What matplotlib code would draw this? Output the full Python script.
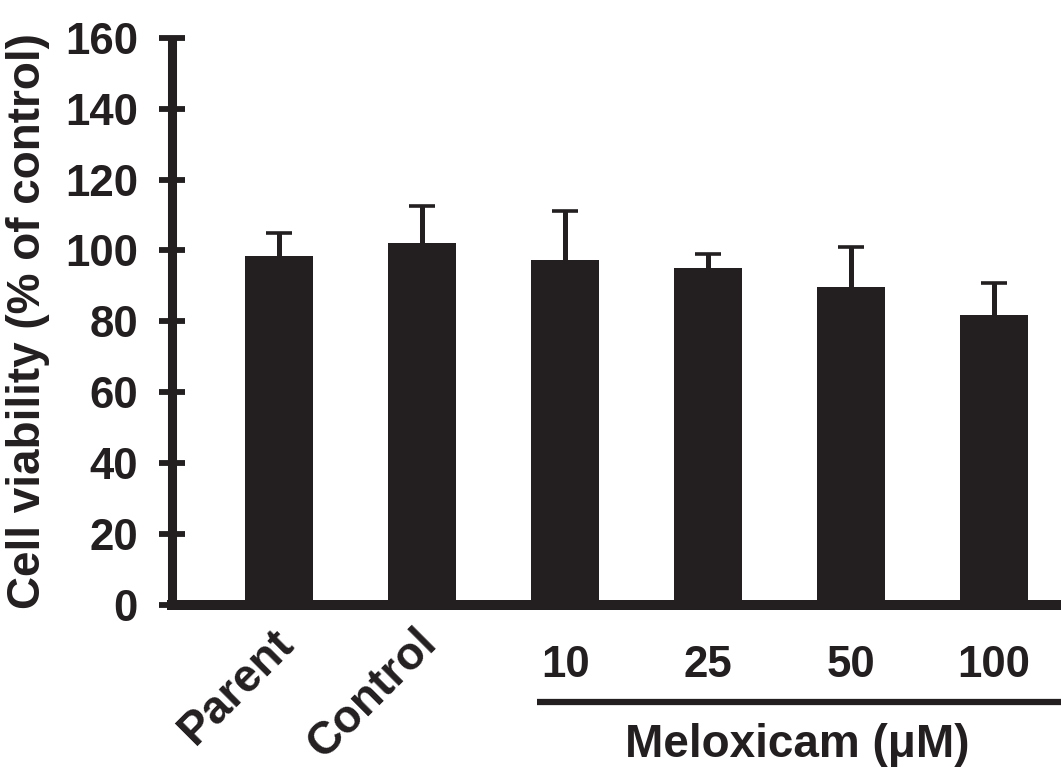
import matplotlib
matplotlib.use("Agg")
import matplotlib.pyplot as plt
from matplotlib.transforms import ScaledTranslation
import numpy as np

categories = ["Parent", "Control", "10", "25", "50", "100"]
values = [98.4, 102.0, 97.3, 95.1, 89.7, 81.8]
errors = [6.6, 10.5, 13.7, 3.9, 11.3, 9.0]
y_ticks = [0, 20, 40, 60, 80, 100, 120, 140, 160]
y_label = "Cell viability (% of control)"
group_label = "Meloxicam (\u03bcM)"

plt.rcParams['font.family'] = ['Liberation Sans', 'DejaVu Sans']
plt.rcParams['font.weight'] = 'bold'

W, H = 1061, 769
fig = plt.figure(figsize=(W / 100, H / 100), dpi=100)
ax_left = 172 / W
ax_bottom = (H - 605) / H
ax_top = (H - 37.7) / H
ax = fig.add_axes([ax_left, ax_bottom, 1.0 - ax_left, ax_top - ax_bottom])

color = "#231f20"
x = np.arange(len(categories))
ax.bar(x, values, width=0.476, color=color, zorder=2)
eb = ax.errorbar(x, values, yerr=[np.zeros(len(errors)), errors], fmt='none',
                 ecolor=color, elinewidth=3.6, capsize=9.7, capthick=2.6, zorder=1)
# hide the lower caps (zero-length lower error)
caps = eb.lines[1]
if len(caps) >= 2:
    caps[0].set_visible(False)

ax.set_xlim(-0.752, 5.469)
ax.set_ylim(0, 160)
ax.spines['top'].set_visible(False)
ax.spines['right'].set_visible(False)
ax.spines['left'].set_linewidth(6.5)
ax.spines['bottom'].set_linewidth(7.2)
ax.spines['left'].set_color(color)
ax.spines['bottom'].set_color(color)
ax.spines['left'].set_capstyle('butt')

ax.set_yticks(y_ticks)
ax.set_yticklabels([str(v) for v in y_ticks], fontsize=31.5, fontweight='bold', color=color)
ax.tick_params(axis='y', direction='inout', length=19, width=4.2, color=color, pad=15)

ax.set_xticks(x)
ax.set_xticklabels(categories, fontsize=31.5, fontweight='bold', color=color)
ax.tick_params(axis='x', length=0, pad=29)
for i, lab in enumerate(ax.get_xticklabels()):
    if i < 2:
        lab.set_rotation(45)
        lab.set_ha('right')
        lab.set_va('top')
        lab.set_rotation_mode('anchor')
        lab.set_fontsize(33)
        lab.set_y(0.055)
        lab.set_transform(lab.get_transform() +
                          ScaledTranslation(-8 / 100, -7 / 100, fig.dpi_scale_trans))

ax.set_ylabel(y_label, fontsize=33, fontweight='bold', labelpad=11, color=color)

# group line and label under dose bars
ax.plot([1.80, 5.469], [-0.171, -0.171], transform=ax.get_xaxis_transform(),
        color=color, lw=4.5, clip_on=False, solid_capstyle='butt')
ax.text(3.62, -0.247, group_label, transform=ax.get_xaxis_transform(),
        ha='center', va='center', fontsize=33, fontweight='bold', color=color)

fig.savefig("out.png", dpi=100)
